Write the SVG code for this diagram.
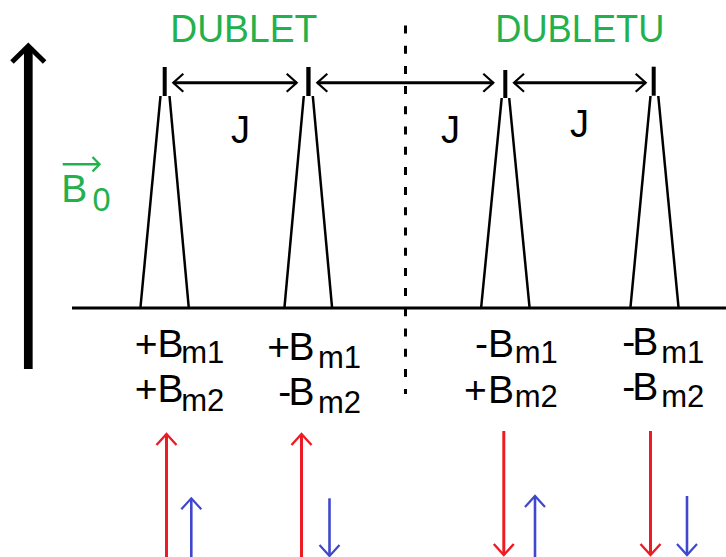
<svg xmlns="http://www.w3.org/2000/svg" width="726" height="557" viewBox="0 0 726 557">
<style>
  .ln{stroke:#000;stroke-width:2.5;fill:none}
  .spk{fill:#000}
  .txt{font-family:"Liberation Sans",Arial,sans-serif;fill:#000}
  .grn{font-family:"Liberation Sans",Arial,sans-serif;fill:#22b14c}
  .main{font-size:39px}
  .sub{font-size:31px}
  .red{stroke:#ed1c24;stroke-width:3;fill:none}
  .blue{stroke:#3f48cc;stroke-width:2.6;fill:none}
  .jarr{stroke:#000;stroke-width:3;fill:none}
</style>
<defs>
  <marker id="chevK" markerUnits="userSpaceOnUse" viewBox="-12 -12 24 24" refX="0" refY="0" markerWidth="24" markerHeight="24" orient="auto-start-reverse">
    <path d="M-10,-9 L0,0 L-10,9" stroke="#000" stroke-width="2.2" fill="none"/>
  </marker>
  <marker id="chevR" markerUnits="userSpaceOnUse" viewBox="-14 -14 28 28" refX="0" refY="0" markerWidth="28" markerHeight="28" orient="auto">
    <path d="M-11,-10 L0,0 L-11,10" stroke="#ed1c24" stroke-width="2.4" fill="none"/>
  </marker>
  <marker id="chevB" markerUnits="userSpaceOnUse" viewBox="-14 -14 28 28" refX="0" refY="0" markerWidth="28" markerHeight="28" orient="auto">
    <path d="M-11,-10 L0,0 L-11,10" stroke="#3f48cc" stroke-width="2.2" fill="none"/>
  </marker>
</defs>
<rect width="726" height="557" fill="#fff"/>

<g id="axis">
  <line x1="28.3" y1="369" x2="28.3" y2="48" stroke="#000" stroke-width="8.7"/>
  <path d="M12,62 L28.3,46 L44.6,62" stroke="#000" stroke-width="5" fill="none"/>
  <line x1="72" y1="308" x2="726" y2="308" stroke="#000" stroke-width="3"/>
  <line x1="405.5" y1="25.5" x2="405.5" y2="394" stroke="#000" stroke-width="3" stroke-dasharray="8 12.2"/>
</g>

<g id="b0">
  <line x1="62.7" y1="164.2" x2="98.5" y2="164.2" stroke="#22b14c" stroke-width="2.5"/>
  <path d="M92.5,157 L99.5,164.2 L92.5,171.5" stroke="#22b14c" stroke-width="2.3" fill="none"/>
  <text class="grn" x="61.2" y="202.3" font-size="39">B</text>
  <text class="grn" x="92.6" y="211" font-size="32.5">0</text>
</g>

<g id="titles">
  <text class="grn" x="170.3" y="41.7" font-size="38" textLength="147" lengthAdjust="spacingAndGlyphs">DUBLET</text>
  <text class="grn" x="495.3" y="41.7" font-size="38" textLength="169" lengthAdjust="spacingAndGlyphs">DUBLETU</text>
</g>

<g id="peak1">
  <rect class="spk" x="162.7" y="67" width="4" height="29"/>
  <line class="ln" x1="140.5" y1="307" x2="160.5" y2="96"/>
  <line class="ln" x1="188.7" y1="307" x2="169.5" y2="96"/>
</g>
<g id="peak2">
  <rect class="spk" x="306.3" y="67" width="4.3" height="29"/>
  <line class="ln" x1="284.5" y1="307" x2="303.8" y2="96"/>
  <line class="ln" x1="332" y1="307" x2="312.8" y2="96"/>
</g>
<g id="peak3">
  <rect class="spk" x="503.3" y="70" width="4" height="28"/>
  <line class="ln" x1="481.2" y1="307" x2="501.7" y2="98"/>
  <line class="ln" x1="529.5" y1="307" x2="509.2" y2="98"/>
</g>
<g id="peak4">
  <rect class="spk" x="651.7" y="66.7" width="4" height="29"/>
  <line class="ln" x1="630.5" y1="307" x2="650.5" y2="96"/>
  <line class="ln" x1="678.5" y1="307" x2="658.3" y2="96"/>
</g>

<g id="connectors">
  <line class="jarr" x1="173.3" y1="82.7" x2="296.7" y2="82.7" marker-start="url(#chevK)" marker-end="url(#chevK)"/>
  <line class="jarr" x1="317.3" y1="82.7" x2="493.3" y2="82.7" marker-start="url(#chevK)" marker-end="url(#chevK)"/>
  <line class="jarr" x1="514" y1="82.7" x2="645.7" y2="82.7" marker-start="url(#chevK)" marker-end="url(#chevK)"/>
</g>

<g id="jlabels">
  <text class="txt" x="231" y="142.5" font-size="38">J</text>
  <text class="txt" x="441" y="143" font-size="38">J</text>
  <text class="txt" x="570" y="137" font-size="38">J</text>
</g>

<g id="label1">
  <text class="txt main" x="134.7" y="357.3">+B</text>
  <text class="txt sub" x="181.3" y="363.3">m1</text>
  <text class="txt main" x="134.7" y="402.3">+B</text>
  <text class="txt sub" x="181.3" y="410.7">m2</text>
</g>
<g id="label2">
  <text class="txt main" x="267.3 288.5" y="360">+B</text>
  <text class="txt sub" x="318" y="368.3">m1</text>
  <text class="txt main" x="278.2 288.5" y="405">-B</text>
  <text class="txt sub" x="318" y="413.3">m2</text>
</g>
<g id="label3">
  <text class="txt main" x="475 487.9" y="357.3">-B</text>
  <text class="txt sub" x="514.7" y="362.7">m1</text>
  <text class="txt main" x="464 487.9" y="402.7">+B</text>
  <text class="txt sub" x="514.7" y="407.3">m2</text>
</g>
<g id="label4">
  <text class="txt main" x="622.2 632.2" y="355">-B</text>
  <text class="txt sub" x="661.3" y="363.3">m1</text>
  <text class="txt main" x="622.2 632.2" y="400">-B</text>
  <text class="txt sub" x="661.3" y="407.3">m2</text>
</g>

<g id="spins">
  <line class="red" x1="166.5" y1="557" x2="166.5" y2="434" marker-end="url(#chevR)"/>
  <line class="blue" x1="191.3" y1="557" x2="191.3" y2="498.3" marker-end="url(#chevB)"/>
  <line class="red" x1="301.5" y1="557" x2="301.5" y2="434" marker-end="url(#chevR)"/>
  <line class="blue" x1="329.5" y1="498.3" x2="329.5" y2="556" marker-end="url(#chevB)"/>
  <line class="red" x1="503.8" y1="431" x2="503.8" y2="555" marker-end="url(#chevR)"/>
  <line class="blue" x1="535" y1="557" x2="535" y2="496" marker-end="url(#chevB)"/>
  <line class="red" x1="650.5" y1="431" x2="650.5" y2="555" marker-end="url(#chevR)"/>
  <line class="blue" x1="687" y1="496" x2="687" y2="555" marker-end="url(#chevB)"/>
</g>
</svg>
